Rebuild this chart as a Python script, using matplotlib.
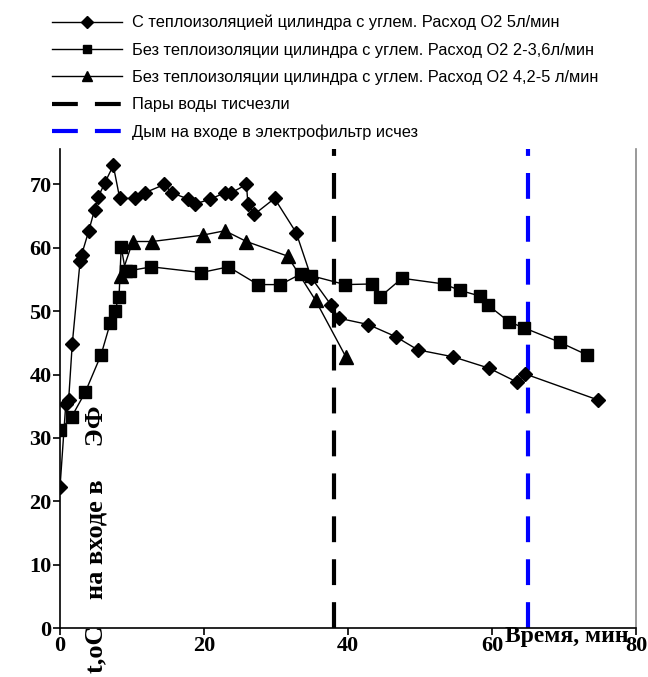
#!/usr/bin/env python3
"""Temperature at the electrofilter inlet versus time, three runs."""

import matplotlib

matplotlib.use("Agg")

from matplotlib import pyplot as plt


W, H, DPI = 648, 677, 100

# Run 1: insulated cylinder, O2 5 l/min (diamonds)
t_ins = [0, 0.8, 1.2, 1.7, 2.8, 3.0, 4.0, 4.8, 5.3, 6.2, 7.4, 8.3, 10.4, 11.8,
         14.5, 15.5, 17.8, 18.7, 20.9, 22.9, 23.8, 25.9, 26.1, 27.0, 29.8,
         32.8, 34.9, 37.7, 38.7, 42.8, 46.6, 49.7, 54.6, 59.6, 63.5, 64.6,
         74.7]
temp_ins = [22.2, 35.3, 36.0, 44.8, 58.0, 58.9, 62.7, 66.0, 68.0, 70.2, 73.0,
            67.8, 67.8, 68.7, 70.0, 68.7, 67.7, 66.9, 67.7, 68.7, 68.7, 70.0,
            66.9, 65.3, 67.8, 62.4, 55.3, 50.9, 48.9, 47.9, 46.0, 43.9, 42.8,
            41.0, 38.8, 40.1, 36.0]

# Run 2: no insulation, O2 2-3.6 l/min (squares)
t_low = [0, 1.6, 3.5, 5.7, 7.0, 7.6, 8.2, 8.5, 9.1, 9.7, 12.7, 19.6, 23.4,
         27.5, 30.6, 33.5, 34.9, 39.6, 43.4, 44.5, 47.5, 53.3, 55.5, 58.3,
         59.4, 62.4, 64.4, 69.4, 73.2]
temp_low = [31.2, 33.3, 37.2, 43.1, 48.2, 50.0, 52.3, 60.1, 56.3, 56.4, 57.0,
            56.1, 57.0, 54.2, 54.2, 55.9, 55.6, 54.2, 54.3, 52.3, 55.2, 54.3,
            53.3, 52.4, 51.0, 48.3, 47.4, 45.1, 43.1]

# Run 3: no insulation, O2 4.2-5 l/min (triangles)
t_high = [8.5, 10.1, 12.8, 19.8, 22.9, 25.9, 31.6, 35.5, 39.7]
temp_high = [55.6, 61.0, 61.0, 62.0, 62.7, 61.0, 58.7, 51.7, 42.8]

# Event markers (minutes)
t_vapour = 38
t_smoke = 65

labels = [
    "С теплоизоляцией цилиндра с углем. Расход О2 5л/мин",
    "Без теплоизоляции цилиндра с углем. Расход О2 2-3,6л/мин",
    "Без теплоизоляции цилиндра с углем. Расход О2 4,2-5 л/мин",
    "Пары воды тисчезли",
    "Дым на входе в электрофильтр исчез",
]
x_ticks = [0, 20, 40, 60, 80]
y_ticks = [0, 10, 20, 30, 40, 50, 60, 70]


def main():
    fig = plt.figure(figsize=(W / DPI, H / DPI), dpi=DPI, facecolor="white")
    ax = fig.add_axes([60 / W, 49 / H, 576 / W, 479 / H])
    ax.set_xlim(0, 80)
    ax.set_ylim(0, 75.6)

    ax.plot(t_ins, temp_ins, color="black", lw=1.0, marker="D", ms=7.5,
            label=labels[0], zorder=4)
    ax.plot(t_low, temp_low, color="black", lw=1.0, marker="s", ms=8,
            label=labels[1], zorder=4)
    ax.plot(t_high, temp_high, color="black", lw=1.0, marker="^", ms=9.5,
            label=labels[2], zorder=4)
    dash = (0, (6.2, 4.1))
    ax.axvline(t_vapour, color="black", lw=3, linestyle=dash, label=labels[3],
               zorder=2)
    ax.axvline(t_smoke, color="#0000ff", lw=3, linestyle=dash, label=labels[4],
               zorder=2)

    ax.spines["top"].set_visible(False)
    ax.spines["right"].set_color("#888888")
    ax.spines["right"].set_linewidth(1.2)
    for side in ("left", "bottom"):
        ax.spines[side].set_linewidth(1.2)

    ax.set_xticks(x_ticks)
    ax.set_yticks(y_ticks)
    ax.tick_params(direction="out", length=5, width=1.2, pad=1)
    for lbl in ax.get_xticklabels() + ax.get_yticklabels():
        lbl.set_fontfamily("Liberation Serif")
        lbl.set_fontweight("bold")
        lbl.set_fontsize(16)

    fig.text(629 / W, 1 - 626 / H, "Время, мин", family="Liberation Serif",
             weight="bold", fontsize=17, ha="right", va="top")
    fig.text(96 / W, 1 - 673 / H, "t,oC    на входе в     ЭФ",
             family="Liberation Serif", weight="bold", fontsize=19,
             rotation=90, ha="center", va="bottom")

    handles, names = ax.get_legend_handles_labels()
    fig.legend(handles, names, loc="upper left",
               bbox_to_anchor=(52 / W, 1 - 15 / H), frameon=False,
               prop={"family": "Liberation Sans", "size": 11.8},
               handlelength=4.27, handletextpad=0.6, labelspacing=0.75,
               markerscale=0.75, borderaxespad=0, borderpad=0)

    fig.savefig("out.png", dpi=DPI, facecolor="white")
    plt.close(fig)


if __name__ == "__main__":
    main()
